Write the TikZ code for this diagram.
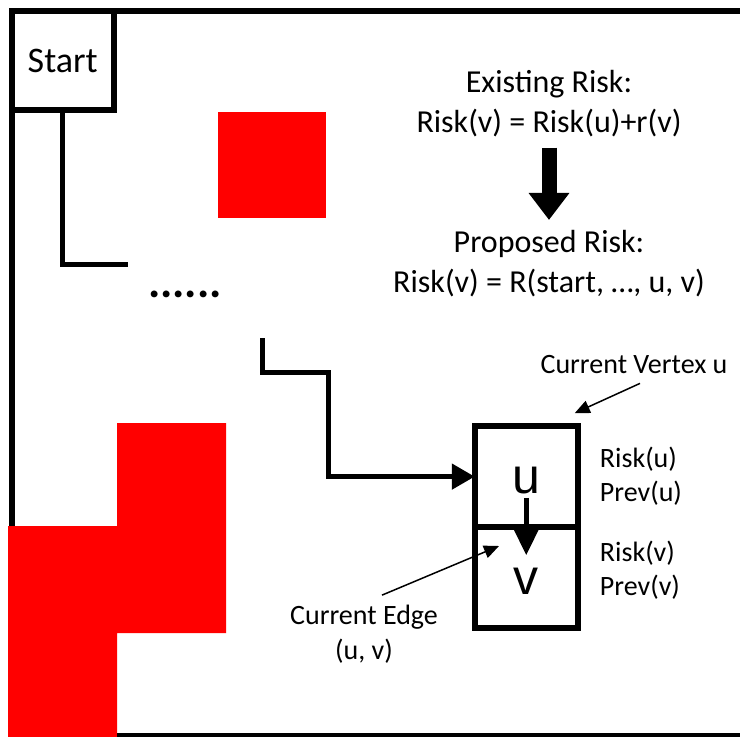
\documentclass[tikz,border=0pt]{standalone}
\usepackage{fontspec}
\setmainfont{Carlito}
\newfontfamily\letrafonte{Liberation Sans}
\usetikzlibrary{arrows.meta,positioning,calc}
\tikzset{
    texto/.style={
        align=center,
        inner sep=0pt,
        font=\fontsize{28}{35}\selectfont
    },
    formula/.style={texto, font=\fontsize{32}{40}\selectfont},
    celula/.style={
        draw,
        line width=5.5pt,
        outer sep=0pt,
        minimum width=103pt,
        minimum height=101pt
    },
    letra/.style={inner sep=0pt, font=\letrafonte\fontsize{50}{50}\selectfont},
    caminho/.style={line width=5pt},
    fluxo/.style={caminho, -{Triangle[length=23pt,width=25pt]}},
    nota/.style={line width=1.5pt, -{Triangle[length=15pt,width=13pt]}},
    blocoseta/.style={line width=15pt, -{Triangle[length=27pt,width=39pt]}},
    obstaculo/.style={fill=red, draw=none},
    moldura/.style={line width=6pt}
}

\begin{document}
\begin{tikzpicture}[x=1pt, y=-1pt]
    \useasboundingbox (0,0) rectangle (740,737);

    % obstaculos
    \fill[obstaculo] (218,112) rectangle (326,218);
    \fill[obstaculo] (8,526) -- (117,526) -- (117,423) -- (226,423) -- (226,633)
        -- (117,633) -- (117,737) -- (8,737) -- cycle;

    % moldura
    \draw[moldura] (11.5,526) -- (11.5,11) -- (740,11);
    \draw[moldura] (117,735.5) -- (740,735.5);

    \node[draw, moldura, outer sep=0pt, minimum width=102.5pt, minimum height=99pt,
        font=\fontsize{36}{36}\selectfont] (start) at (62.75,60.5) {Start};

    % caminho ate u
    \coordinate (fim1) at (128,264);
    \draw[caminho] (start.south) |- (fim1);
    \node[inner sep=0pt, font=\bfseries\fontsize{46}{46}\selectfont] (pontos) at (185,294) {......};
    \coordinate (inicio2) at (262,338);

    \node[celula] (ucell) at (526.25,476.6) {};
    \node[celula, below=0pt of ucell] (vcell) {};
    \node[letra] (letrau) at ([yshift=-3.5pt]ucell.center) {u};
    \node[letra] (letrav) at ([yshift=-4pt]vcell.center) {v};

    \draw[fluxo] (inicio2) |- ++(66,34) |- (ucell.west);
    \draw[caminho, -{Triangle[length=25pt,width=23pt]}, shorten <=4pt, shorten >=13pt]
        (letrau.south) -- (letrav.north);

    \node[texto, align=left, anchor=west, font=\fontsize{28}{34}\selectfont] (riscou)
        at ([xshift=22pt]ucell.east) {Risk(u)\\Prev(u)};
    \node[texto, align=left, anchor=west, font=\fontsize{28}{34}\selectfont] (riscov)
        at ([xshift=22pt, yshift=7pt]vcell.east) {Risk(v)\\Prev(v)};

    % anotacoes
    \node[texto] (vertice) at (634,365) {Current Vertex u};
    \draw[nota] ([xshift=6pt, yshift=-9pt]vertice.south)
        -- ([shift={(-3pt,13pt)}]ucell.north east);
    \node[texto] (aresta) at (364,634.5) {Current Edge\\(u, v)};
    \coordinate (pontaaresta) at (499,546);
    \draw[nota] ([xshift=18pt, yshift=10pt]aresta.north) -- (pontaaresta);

    % risco
    \node[formula] (existente) at (549,104) {Existing Risk:\\Risk(v) = Risk(u)+r(v)};
    \node[formula] (proposto) at (549,263.5) {Proposed Risk:\\Risk(v) = R(start, …, u, v)};
    \draw[blocoseta, shorten <=10pt, shorten >=10pt] (existente) -- (proposto);
\end{tikzpicture}
\end{document}
